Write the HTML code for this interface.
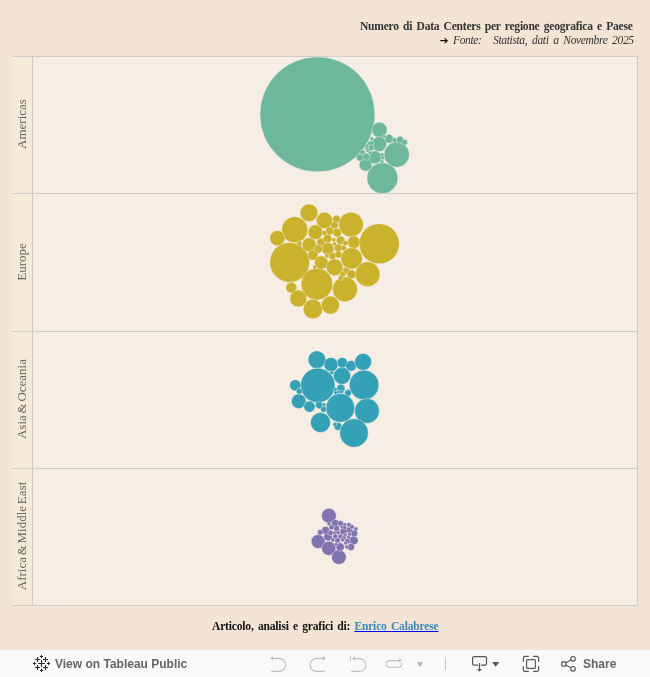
<!DOCTYPE html>
<html><head><meta charset="utf-8">
<style>
html,body{margin:0;padding:0}
body{width:650px;height:677px;position:relative;overflow:hidden;background:#f4e4d5;font-family:"Liberation Serif",serif}
.t1{position:absolute;right:17.5px;top:20px;font:bold 11.6px/14px "Liberation Serif",serif;color:#333;white-space:nowrap;letter-spacing:-0.25px;word-spacing:1.6px}
.t2{position:absolute;right:16.6px;top:33.4px;font:italic 11.5px/14px "Liberation Serif",serif;color:#333;white-space:nowrap;letter-spacing:-0.35px;word-spacing:2.2px}
.t2 .ar{position:absolute;left:-13.3px;top:0;font:bold 10.5px/14px "DejaVu Sans",sans-serif;font-style:normal;color:#111;letter-spacing:0}
.hdr{position:absolute;left:12px;top:56px;width:20px;height:549px;background:#f5ead9}
.plot{position:absolute;left:33px;top:57px;width:604px;height:548px;background:#f6eee4}
.hl{position:absolute;left:12px;width:626px;height:1px;background:#cdcdcd}
.vl{position:absolute;top:56px;width:1px;height:550px;background:#cdcdcd}
.lab{position:absolute;left:21px;font:13px/13px "Liberation Serif",serif;color:#666;white-space:nowrap;transform:translate(-50%,-50%) rotate(-90deg)}
svg.ch{position:absolute;left:0;top:0}
.foot{position:absolute;left:212px;top:620.3px;font:bold 11.6px/14px "Liberation Serif",serif;color:#111;white-space:nowrap;letter-spacing:-0.2px;word-spacing:1.55px}
.foot a{color:#3b8ab6;text-decoration:underline #0000f0 1px;text-underline-offset:1px}
.tb{position:absolute;left:0;top:650px;width:650px;height:27px;background:#f9f9f9}
.tbt{position:absolute;font:bold 12px/14px "Liberation Sans",sans-serif;color:#666;white-space:nowrap}
.t1,.t2,.foot,.tbt{will-change:transform}
</style></head><body>
<div class="t1">Numero di Data Centers per regione geografica e Paese</div>
<div class="t2"><span class="ar">&#10132;</span>Fonte:<span style="display:inline-block;width:11.5px"></span>Statista, dati a Novembre 2025</div>

<div class="hdr"></div>
<div class="plot"></div>
<div class="hl" style="top:56px"></div>
<div class="hl" style="top:193px"></div>
<div class="hl" style="top:331px"></div>
<div class="hl" style="top:468px"></div>
<div class="hl" style="top:605px"></div>
<div class="vl" style="left:32px"></div>
<div class="vl" style="left:637px"></div>

<div class="labwrap" style="position:absolute;left:0;top:0;width:40px;height:677px;will-change:transform">
<div class="lab" style="top:124px">Americas</div>
<div class="lab" style="top:261.5px">Europe</div>
<div class="lab" style="top:399px;word-spacing:-1.5px">Asia &amp; Oceania</div>
<div class="lab" style="top:535.7px;word-spacing:-1.5px">Africa &amp; Middle East</div>
</div>

<!--CHART-->
<svg class="ch" width="650" height="677" viewBox="0 0 650 677">
<g fill="#6db89a" stroke="#f7f1ea" stroke-opacity="0.8" stroke-width="0.5">
<circle cx="317.4" cy="114.4" r="57.45"/>
<circle cx="379.5" cy="130" r="7.65"/>
<circle cx="379.2" cy="144.1" r="7.40"/>
<circle cx="396.7" cy="154.6" r="12.65"/>
<circle cx="382.4" cy="178.1" r="15.45"/>
<circle cx="365.6" cy="164.8" r="6.45"/>
<circle cx="374.9" cy="157.3" r="6.50"/>
<circle cx="360.1" cy="157.4" r="3.75"/>
<circle cx="366.3" cy="156.8" r="3.55"/>
<circle cx="389" cy="138.8" r="4.45"/>
<circle cx="394.5" cy="140.2" r="2.55"/>
<circle cx="400.1" cy="139.8" r="3.55"/>
<circle cx="404.6" cy="142.3" r="2.95"/>
<circle cx="371.8" cy="138.8" r="1.95"/>
<circle cx="370.6" cy="143.7" r="2.95"/>
<circle cx="371" cy="147.9" r="3.05"/>
<circle cx="366.9" cy="145.9" r="2.05"/>
<circle cx="366.5" cy="148.6" r="1.80"/>
<circle cx="368" cy="150.8" r="1.95"/>
<circle cx="370" cy="152.8" r="1.80"/>
<circle cx="362.4" cy="152.2" r="2.75"/>
<circle cx="382.1" cy="154.7" r="2.00"/>
<circle cx="382.8" cy="157.9" r="1.95"/>
<circle cx="381.9" cy="161.5" r="1.85"/>
<circle cx="384.1" cy="136.7" r="1.75"/>
</g>
<g fill="#cab22c" stroke="#f7f1ea" stroke-opacity="0.8" stroke-width="0.5">
<circle cx="309" cy="212.8" r="8.90"/>
<circle cx="324.4" cy="220.4" r="8.15"/>
<circle cx="294.7" cy="229.7" r="13.05"/>
<circle cx="277.4" cy="238.2" r="7.65"/>
<circle cx="289.7" cy="262.3" r="19.85"/>
<circle cx="315.4" cy="232.2" r="7.35"/>
<circle cx="309.2" cy="244.8" r="7.15"/>
<circle cx="312.9" cy="255.1" r="5.15"/>
<circle cx="321.3" cy="262.6" r="6.75"/>
<circle cx="327.6" cy="248.7" r="6.25"/>
<circle cx="320.9" cy="242.1" r="4.15"/>
<circle cx="327.6" cy="238.5" r="4.35"/>
<circle cx="329.8" cy="230.8" r="4.15"/>
<circle cx="324.4" cy="233" r="2.55"/>
<circle cx="318.3" cy="249" r="4.25"/>
<circle cx="299.5" cy="243.4" r="2.65"/>
<circle cx="332.5" cy="256" r="3.65"/>
<circle cx="379.2" cy="243.8" r="20.05"/>
<circle cx="351" cy="224.6" r="12.35"/>
<circle cx="353.8" cy="242.3" r="6.30"/>
<circle cx="351.6" cy="258.5" r="10.75"/>
<circle cx="367.6" cy="274.2" r="12.35"/>
<circle cx="334.6" cy="267.4" r="8.35"/>
<circle cx="336.4" cy="219.3" r="3.95"/>
<circle cx="334.6" cy="225.2" r="3.75"/>
<circle cx="337.2" cy="232.7" r="4.30"/>
<circle cx="340.5" cy="240.3" r="4.25"/>
<circle cx="338.1" cy="248" r="3.95"/>
<circle cx="338.4" cy="254.5" r="3.55"/>
<circle cx="345.5" cy="243.1" r="2.60"/>
<circle cx="343.6" cy="248" r="2.70"/>
<circle cx="333.9" cy="239.9" r="2.05"/>
<circle cx="334.5" cy="243.8" r="2.05"/>
<circle cx="316.9" cy="284.1" r="15.85"/>
<circle cx="291.4" cy="287.6" r="5.50"/>
<circle cx="298.4" cy="298.5" r="8.55"/>
<circle cx="312.9" cy="309.1" r="9.75"/>
<circle cx="330.4" cy="305.1" r="9.05"/>
<circle cx="314.7" cy="267" r="1.95"/>
<circle cx="345" cy="289.3" r="12.45"/>
<circle cx="346" cy="270.9" r="3.55"/>
<circle cx="351.6" cy="274.4" r="4.45"/>
<circle cx="342.5" cy="274.3" r="2.95"/>
<circle cx="340.5" cy="278" r="2.45"/>
<circle cx="327" cy="256" r="2.15"/>
</g>
<g fill="#35a1b6" stroke="#f7f1ea" stroke-opacity="0.8" stroke-width="0.5">
<circle cx="316.9" cy="359.7" r="8.85"/>
<circle cx="317.8" cy="385.4" r="17.25"/>
<circle cx="331" cy="364.6" r="7.10"/>
<circle cx="295.3" cy="385.3" r="5.65"/>
<circle cx="299.2" cy="391.3" r="2.95"/>
<circle cx="298.7" cy="401.3" r="7.35"/>
<circle cx="331.9" cy="372.7" r="1.95"/>
<circle cx="342" cy="375.8" r="8.55"/>
<circle cx="342.3" cy="362.7" r="5.25"/>
<circle cx="340.9" cy="388.5" r="4.15"/>
<circle cx="351.1" cy="365.8" r="5.35"/>
<circle cx="363.1" cy="361.9" r="8.45"/>
<circle cx="364.1" cy="385" r="14.75"/>
<circle cx="348" cy="392.9" r="3.35"/>
<circle cx="340.3" cy="407.9" r="14.35"/>
<circle cx="367" cy="410.9" r="12.35"/>
<circle cx="309.5" cy="406.6" r="5.60"/>
<circle cx="320.5" cy="422.5" r="10.00"/>
<circle cx="319.1" cy="405.1" r="3.75"/>
<circle cx="323.5" cy="409.3" r="2.95"/>
<circle cx="324" cy="404.7" r="1.95"/>
<circle cx="338" cy="426.4" r="3.95"/>
<circle cx="334.9" cy="424.3" r="1.95"/>
<circle cx="354" cy="433" r="14.25"/>
<circle cx="335.2" cy="389.5" r="1.95"/>
<circle cx="338.5" cy="392" r="1.85"/>
<circle cx="341.5" cy="392" r="1.85"/>
<circle cx="335.6" cy="392.8" r="1.85"/>
</g>
<g fill="#7f73b0" stroke="#f7f1ea" stroke-opacity="0.8" stroke-width="0.5">
<circle cx="328.9" cy="515.7" r="7.35"/>
<circle cx="318.2" cy="541.5" r="6.95"/>
<circle cx="328.8" cy="548.3" r="7.15"/>
<circle cx="338.9" cy="557.1" r="7.35"/>
<circle cx="353.7" cy="540.4" r="4.40"/>
<circle cx="351" cy="547" r="3.55"/>
<circle cx="340.1" cy="547" r="4.20"/>
<circle cx="328" cy="536.7" r="4.25"/>
<circle cx="325.6" cy="530.4" r="3.95"/>
<circle cx="320.3" cy="532.2" r="2.80"/>
<circle cx="335.3" cy="523.2" r="3.75"/>
<circle cx="340.6" cy="523.3" r="2.85"/>
<circle cx="354.1" cy="533.2" r="3.50"/>
<circle cx="349.2" cy="529.8" r="3.15"/>
<circle cx="343.5" cy="531.5" r="3.75"/>
<circle cx="347.4" cy="541.2" r="2.75"/>
<circle cx="329" cy="523.7" r="2.05"/>
<circle cx="344.9" cy="524.7" r="2.05"/>
<circle cx="349" cy="524.8" r="2.25"/>
<circle cx="352" cy="526.8" r="2.25"/>
<circle cx="355.9" cy="528.9" r="2.05"/>
<circle cx="331.5" cy="527.2" r="2.55"/>
<circle cx="336.6" cy="528.4" r="2.95"/>
<circle cx="342" cy="526.9" r="1.85"/>
<circle cx="344.6" cy="527.6" r="2.15"/>
<circle cx="345" cy="535.2" r="1.95"/>
<circle cx="348.5" cy="537.2" r="1.95"/>
<circle cx="349.5" cy="534.1" r="2.05"/>
<circle cx="330.6" cy="532.9" r="2.75"/>
<circle cx="334.9" cy="532.8" r="1.95"/>
<circle cx="338" cy="532.5" r="2.05"/>
<circle cx="335.3" cy="536.5" r="2.55"/>
<circle cx="340.5" cy="536.5" r="2.55"/>
<circle cx="343.9" cy="537.9" r="2.25"/>
<circle cx="332.8" cy="539.9" r="2.05"/>
<circle cx="337.5" cy="540.5" r="2.75"/>
<circle cx="342.5" cy="539.9" r="1.95"/>
<circle cx="345.7" cy="543.1" r="1.95"/>
<circle cx="346.9" cy="547" r="2.05"/>
<circle cx="336" cy="544.5" r="1.85"/>
</g>
</svg>
<!--/CHART-->

<div class="foot">Articolo, analisi e grafici di: <a>Enrico Calabrese</a></div>

<div class="tb">
<!--TOOLBAR-->
<svg style="position:absolute;left:0;top:0" width="650" height="27" viewBox="0 650 650 27">
<g stroke="#2b2b2b" fill="none" stroke-linecap="butt"><path d="M38.1 663.5H44.9M41.5 660.1V666.9" stroke-width="1.15"/><path d="M35.0 659.5H40.0M37.5 657.0V662.0" stroke-width="1.1"/><path d="M35.0 667.5H40.0M37.5 665.0V670.0" stroke-width="1.1"/><path d="M43.0 659.5H48.0M45.5 657.0V662.0" stroke-width="1.1"/><path d="M43.0 667.5H48.0M45.5 665.0V670.0" stroke-width="1.1"/><path d="M39.9 656.5H43.1M41.5 654.9V658.1" stroke-width="1.0"/><path d="M39.9 670.5H43.1M41.5 668.9V672.1" stroke-width="1.0"/><path d="M32.9 663.5H36.1M34.5 661.9V665.1" stroke-width="1.0"/><path d="M46.9 663.5H50.1M48.5 661.9V665.1" stroke-width="1.0"/></g><g fill="#2b2b2b"><path d="M41.5 655.4L42.6 656.5L41.5 657.6L40.4 656.5Z"/><path d="M41.5 669.4L42.6 670.5L41.5 671.6L40.4 670.5Z"/><path d="M34.5 662.4L35.6 663.5L34.5 664.6L33.4 663.5Z"/><path d="M48.5 662.4L49.6 663.5L48.5 664.6L47.4 663.5Z"/></g>
<path d="M272.6 658.35H279.1A6.5 6.5 0 0 1 279.1 671.4H271.2" fill="none" stroke="#c0c0c0" stroke-width="1.1"/><path d="M270 658.35L272.9 656V660.7Z" fill="#c0c0c0"/>
<g transform="translate(595.8 0) scale(-1 1)"><path d="M272.6 658.35H279.1A6.5 6.5 0 0 1 279.1 671.4H271.2" fill="none" stroke="#c0c0c0" stroke-width="1.1"/><path d="M270 658.35L272.9 656V660.7Z" fill="#c0c0c0"/></g>
<path d="M350.4 656.1V660.9" stroke="#c0c0c0" stroke-width="1.1"/>
<path d="M354.7 658.6H359.5A6.4 6.4 0 0 1 359.5 671.4H351.2" fill="none" stroke="#c0c0c0" stroke-width="1.1"/>
<path d="M352.1 658.6L355 656.3V660.9Z" fill="#c0c0c0"/>
<path d="M399.4 660.6H389.8A3.35 3.35 0 0 0 389.8 667.3H398.5A3.35 3.35 0 0 0 401.7 662.9" fill="none" stroke="#c0c0c0" stroke-width="1.1"/>
<path d="M401.9 660.5L399.2 658.2V662.8Z" fill="#c0c0c0"/>
<path d="M416.9 662.2H423.3L420.1 666.9Z" fill="#b3b3b3"/>
<path d="M445.5 657.1V670" stroke="#c9c9c9" stroke-width="1"/>
<path d="M478 665.2H474.1A1.5 1.5 0 0 1 472.6 663.7V658.1A1.5 1.5 0 0 1 474.1 656.6H485A1.5 1.5 0 0 1 486.5 658.1V663.7A1.5 1.5 0 0 1 485 665.2H481" fill="none" stroke="#555" stroke-width="1.2"/>
<path d="M479.5 663.1V669.5" stroke="#555" stroke-width="1.2"/>
<path d="M477.1 669.1H481.9L479.5 671.8Z" fill="#555"/>
<path d="M492.1 662H499.3L495.7 666.8Z" fill="#555"/>
<path d="M523.4 661.8V658A1.6 1.6 0 0 1 525 656.4H528.8M533.2 656.4H537A1.6 1.6 0 0 1 538.6 658V661.8M538.6 666.2V669.8A1.6 1.6 0 0 1 537 671.4H533.2M528.8 671.4H525A1.6 1.6 0 0 1 523.4 669.8V666.2" fill="none" stroke="#555" stroke-width="1.2"/>
<rect x="526.6" y="659.6" width="8.8" height="8.8" rx="1" fill="none" stroke="#585858" stroke-width="1.15"/>
<g fill="none" stroke="#555" stroke-width="1.1"><circle cx="563.8" cy="663.9" r="2.3"/><circle cx="573" cy="658.8" r="2.3"/><circle cx="573" cy="668.8" r="2.3"/><path d="M565.8 662.8L571 659.9M565.8 665L571 667.7"/></g>
</svg>
<!--/TOOLBAR-->
<div class="tbt" style="left:55px;top:7px">View on Tableau Public</div>
<div class="tbt" style="left:583px;top:7px">Share</div>
</div>
</body></html>
